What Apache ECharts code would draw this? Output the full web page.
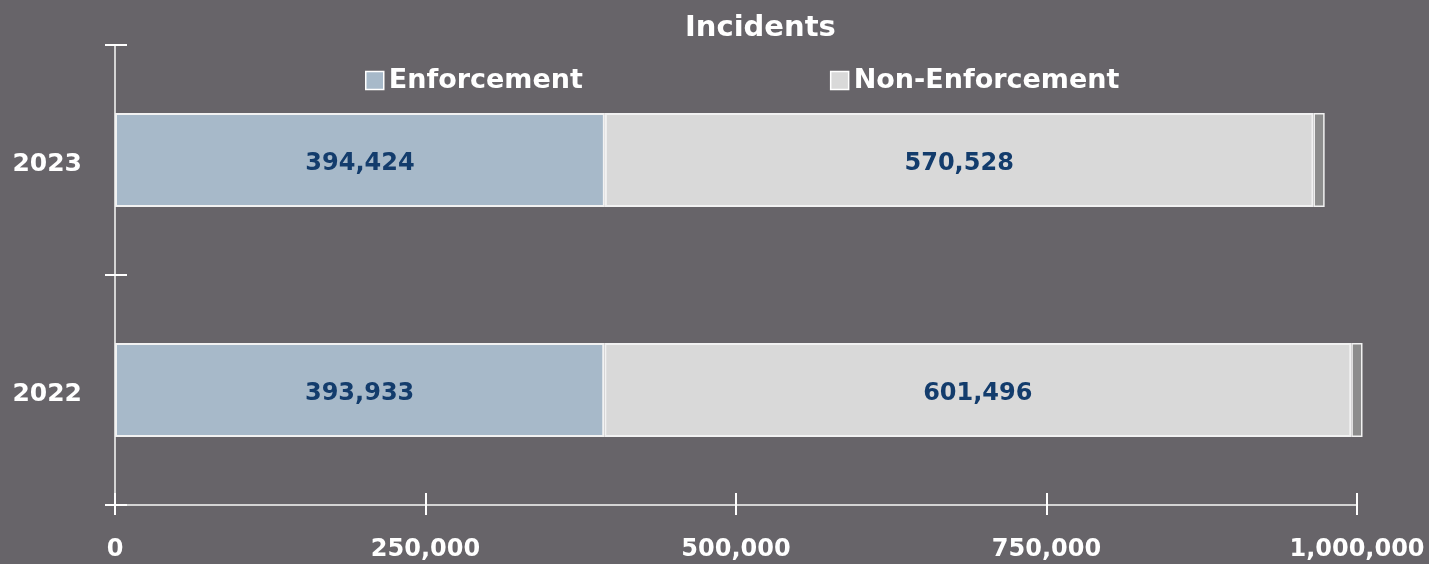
<!DOCTYPE html>
<html>
<head>
<meta charset="utf-8">
<script src="https://cdn.jsdelivr.net/npm/echarts@6/dist/echarts.min.js"></script>
<style>
html,body{margin:0;padding:0;background:#676469;}
#c{width:1429px;height:564px;}
</style>
</head>
<body>
<div id="c"></div>
<script>
const years = ['2022', '2023'];
const enforcement = [393933, 394424];
const nonEnforcement = [601496, 570528];
const other = [9000, 9000];
const xTicks = [0, 250000, 500000, 750000, 1000000];

const FONT = 'DejaVu Sans';
const chart = echarts.init(document.getElementById('c'));
const fmt = v => v.toLocaleString('en-US');
const axisCol = '#d4d4d4';

chart.setOption({
  backgroundColor: '#676469',
  animation: false,
  title: {
    text: 'Incidents', left: 680, top: 9,
    textStyle: { color: '#ffffff', fontFamily: FONT, fontWeight: 'bold', fontSize: 29 }
  },
  legend: {
    top: 62, left: 360, itemGap: 247, itemWidth: 18, itemHeight: 18, itemTextGap: 10,
    icon: 'rect',
    data: ['Enforcement', 'Non-Enforcement'],
    textStyle: { color: '#ffffff', fontFamily: FONT, fontWeight: 'bold', fontSize: 27 },
    itemStyle: { borderColor: '#ffffff', borderWidth: 1.5 }
  },
  grid: { left: 115, right: 72, top: 45, bottom: 59, containLabel: false },
  xAxis: [
    {
      type: 'value', min: 0, max: 1000000, interval: 250000,
      axisLine: { show: true, lineStyle: { color: axisCol, width: 2 } },
      axisTick: { show: true, length: 10, lineStyle: { color: '#ffffff', width: 2 } },
      splitLine: { show: false },
      axisLabel: { color: '#ffffff', fontFamily: FONT, fontWeight: 'bold', fontSize: 24, margin: 33,
        formatter: v => fmt(v) }
    },
    {
      type: 'value', min: 0, max: 1000000, interval: 250000, position: 'bottom',
      axisLine: { show: false },
      axisTick: { show: true, inside: true, length: 12, lineStyle: { color: '#ffffff', width: 2 } },
      splitLine: { show: false }, axisLabel: { show: false }
    }
  ],
  yAxis: [
    {
      type: 'category', data: years,
      axisLine: { show: true, lineStyle: { color: axisCol, width: 2 } },
      axisTick: { show: true, length: 10, lineStyle: { color: '#ffffff', width: 2 } },
      axisLabel: { color: '#ffffff', fontFamily: FONT, fontWeight: 'bold', fontSize: 25, margin: 33,
        formatter: v => '{a|' + v + '}',
        rich: { a: { color: '#ffffff', fontFamily: FONT, fontWeight: 'bold', fontSize: 25, padding: [8, 0, 0, 0] } } }
    },
    {
      type: 'category', data: years, position: 'left',
      axisLine: { show: false },
      axisTick: { show: true, inside: true, length: 12, lineStyle: { color: '#ffffff', width: 2 } },
      axisLabel: { show: false }
    }
  ],
  series: [
    {
      name: 'Enforcement', type: 'bar', stack: 't', data: enforcement, barWidth: 94, clip: false,
      itemStyle: { color: '#a7b9c9', borderColor: '#f2f2f2', borderWidth: 2 },
      label: { show: true, position: 'inside', color: '#133c6c', fontFamily: FONT, fontWeight: 'bold', fontSize: 24,
        offset: [0, 4], formatter: p => fmt(p.value) }
    },
    {
      name: 'Non-Enforcement', type: 'bar', stack: 't', data: nonEnforcement, barWidth: 94, clip: false,
      itemStyle: { color: '#d9d9d9', borderColor: '#f2f2f2', borderWidth: 2 },
      label: { show: true, position: 'inside', color: '#133c6c', fontFamily: FONT, fontWeight: 'bold', fontSize: 24,
        offset: [0, 4], formatter: p => fmt(p.value) }
    },
    {
      name: 'Other', type: 'bar', stack: 't', data: other, barWidth: 94, clip: false,
      itemStyle: { color: '#8c8c8c', borderColor: '#f2f2f2', borderWidth: 1.5 },
      label: { show: false }
    }
  ]
});
</script>
</body>
</html>
